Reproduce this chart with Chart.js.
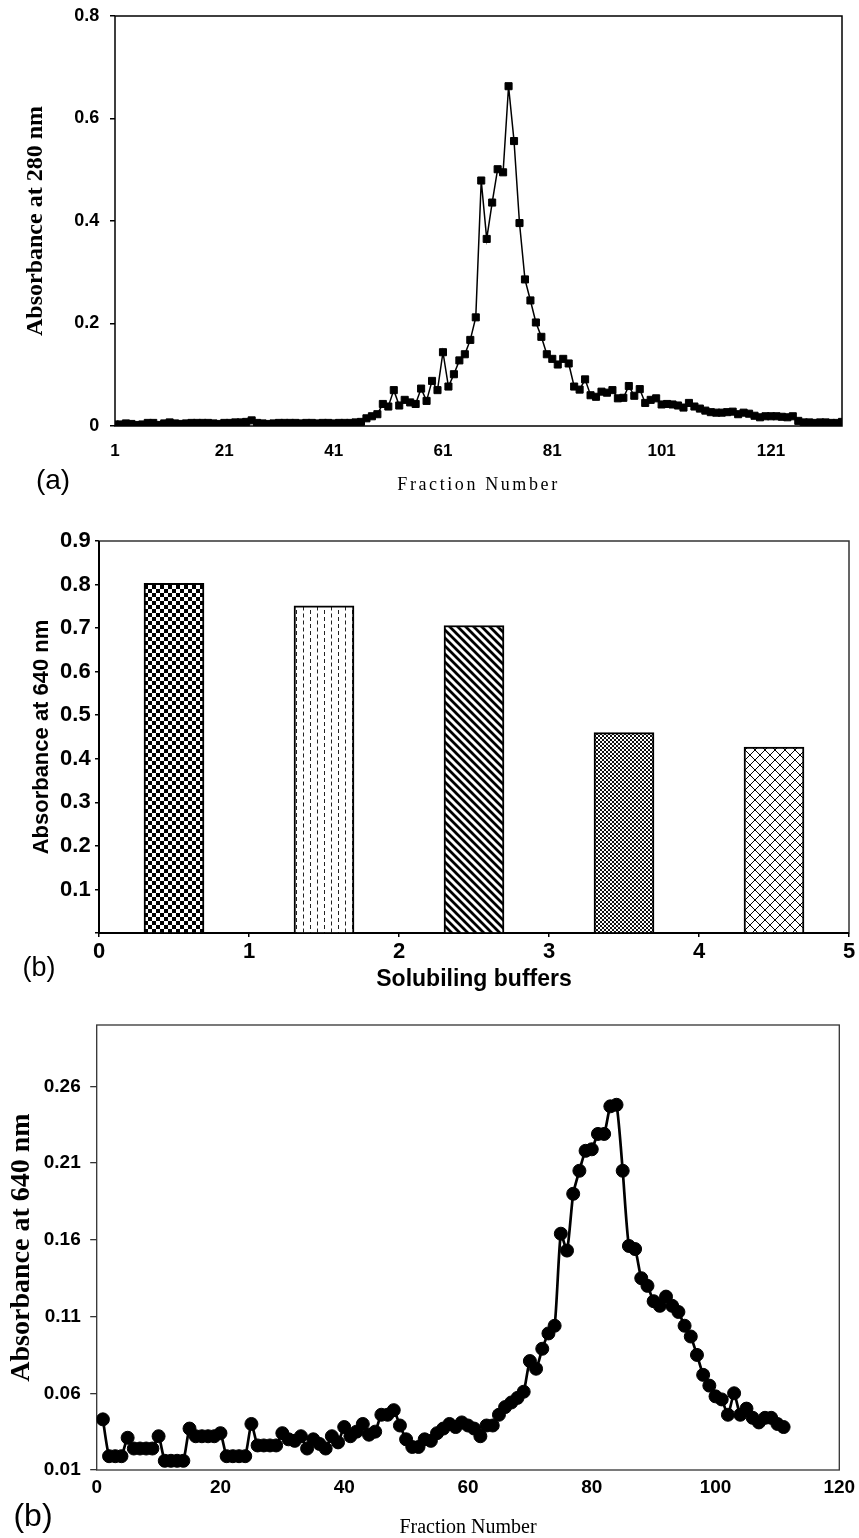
<!DOCTYPE html>
<html><head><meta charset="utf-8">
<script src="https://cdn.jsdelivr.net/npm/chart.js@4/dist/chart.umd.min.js"></script>
<style>
html,body{margin:0;padding:0;background:#fff;}
body{width:859px;height:1538px;position:relative;overflow:hidden;}
canvas{position:absolute;left:0;}
.lbl{position:absolute;font-family:"Liberation Sans",Arial,sans-serif;line-height:1;transform:translate(-50%,-50%);color:#000;white-space:nowrap;}
</style></head><body>
<canvas id="cA" width="859" height="505" style="top:0"></canvas>
<canvas id="cB" width="859" height="495" style="top:505px"></canvas>
<canvas id="cC" width="859" height="538" style="top:1000px"></canvas>
<div class="lbl" style="left:53px;top:480px;font-size:28px">(a)</div>
<div class="lbl" style="left:39px;top:967px;font-size:27px">(b)</div>
<div class="lbl" style="left:33px;top:1515px;font-size:32px">(b)</div>
<script>
// ---------- DATA ----------
// Panel (a): absorbance at 280 nm per fraction (fractions 1..134)
const fractionsA = Array.from({length: 134}, (_, i) => i + 1);
const absorbanceA = [
  0.003,0.003,0.005,0.004,0.002,0.003,0.006,0.006,0.002,0.005,
  0.007,0.005,0.004,0.005,0.006,0.006,0.006,0.006,0.005,0.004,
  0.006,0.006,0.007,0.007,0.008,0.011,0.006,0.005,0.004,0.005,
  0.006,0.006,0.006,0.006,0.005,0.006,0.006,0.005,0.006,0.006,
  0.005,0.006,0.006,0.006,0.007,
  0.008,0.015,0.019,0.023,0.043,0.038,0.070,0.040,0.051,0.046,
  0.043,0.073,0.049,0.088,0.070,0.144,0.077,0.101,0.128,0.140,
  0.168,0.212,
  0.479,0.365,0.436,0.501,0.495,0.663,0.556,0.396,0.286,0.245,
  0.202,0.174,0.140,0.131,0.120,0.131,0.122,0.077,0.071,0.091,
  0.060,
  0.057,0.067,0.065,0.070,0.054,0.055,0.078,0.059,0.072,0.045,
  0.051,0.054,0.042,0.043,0.042,0.040,0.036,0.045,0.038,0.034,
  0.030,0.027,0.026,0.026,0.027,0.028,0.023,0.026,0.024,0.020,
  0.017,0.019,0.019,0.019,0.018,0.017,0.019,0.010,0.007,0.007,
  0.006,0.007,0.007,0.006,0.006,0.008
];
const xTicksA = [1, 21, 41, 61, 81, 101, 121];

// Panel (b) bars: solubilising buffers
const bufferPositions = [0.5, 1.5, 2.5, 3.5, 4.5];
const absorbanceB = [0.803, 0.751, 0.706, 0.460, 0.427];

// Panel (b, lower): absorbance at 640 nm per fraction (1..111)
const fractionsC = Array.from({length: 111}, (_, i) => i + 1);
const absorbanceC = [
  0.043,0.019,0.019,0.019,0.031,0.024,0.024,0.024,0.024,0.032,
  0.016,0.016,0.016,0.016,0.037,0.032,0.032,0.032,0.032,0.034,
  0.019,0.019,0.019,0.019,0.040,0.026,0.026,0.026,0.026,0.034,
  0.030,0.029,0.032,0.024,0.030,0.027,0.024,0.032,0.028,0.038,
  0.032,0.035,0.040,0.033,0.035,0.046,0.046,0.049,0.039,0.030,
  0.025,0.025,0.030,0.029,0.034,0.037,0.040,0.038,0.041,0.039,
  0.037,0.032,0.039,0.039,0.046,0.051,0.054,0.057,0.061,0.081,
  0.076,0.089,0.099,0.104,0.164,0.153,0.190,0.205,0.218,0.219,
  0.229,0.229,0.247,0.248,0.205,0.156,0.154,0.135,0.130,0.120,
  0.117,0.123,0.117,0.113,0.104,0.097,0.085,0.072,0.065,0.058,
  0.056,0.046,0.060,0.046,0.050,0.044,0.041,0.044,0.044,0.040,0.038
];
const yTicksC = [0.01, 0.06, 0.11, 0.16, 0.21, 0.26];

// ---------- HELPERS ----------
const SANS = '"Liberation Sans", Arial, sans-serif';
const SERIF = '"Liberation Serif", "Times New Roman", serif';
Chart.defaults.color = '#000';
Chart.defaults.font.family = SANS;

function fixW(w) { return s => { s.width = w; s.paddingTop = 0; s.paddingBottom = 0; s.paddingLeft = 0; s.paddingRight = 0; }; }
function fixH(h) { return s => { s.height = h; s.paddingTop = 0; s.paddingBottom = 0; s.paddingLeft = 0; s.paddingRight = 0; }; }

const framePlugin = {
  id: 'frame',
  defaults: { color: '#000', width: 1.5, axisColor: null, axisWidth: 0 },
  beforeDatasetsDraw(chart, args, o) {
    const {ctx, chartArea: {left, top, right, bottom}} = chart;
    ctx.save();
    ctx.strokeStyle = o.color; ctx.lineWidth = o.width;
    ctx.strokeRect(left, top, right - left, bottom - top);
    if (o.axisWidth) {
      ctx.strokeStyle = o.axisColor || '#000'; ctx.lineWidth = o.axisWidth;
      ctx.beginPath(); ctx.moveTo(left, top); ctx.lineTo(left, bottom); ctx.lineTo(right, bottom); ctx.stroke();
    }
    ctx.restore();
  }
};
const spacedTitlePlugin = {
  id: 'spacedTitle',
  defaults: { spacing: null },
  beforeDraw(chart, args, o) {
    if (!o.spacing) return;
    const s = chart.scales.x;
    if (s && !s.__spaced) {
      const orig = s.drawTitle;
      s.drawTitle = function () { const c = this.ctx; c.save(); c.letterSpacing = o.spacing; orig.call(this); c.restore(); };
      s.__spaced = true;
    }
  }
};
Chart.register(framePlugin, spacedTitlePlugin);

const common = {
  responsive: false, animation: false, devicePixelRatio: 1,
  events: [],
};

// ---------- PANEL A ----------
new Chart(document.getElementById('cA'), {
  type: 'line',
  data: { datasets: [{
    data: fractionsA.map((f, i) => ({x: f, y: absorbanceA[i]})),
    borderColor: '#000', borderWidth: 1.5, backgroundColor: '#000',
    pointStyle: 'rect', pointRadius: 5, pointBorderWidth: 1, pointBackgroundColor: '#000', pointBorderColor: '#000',
    tension: 0
  }]},
  options: Object.assign({}, common, {
    layout: { padding: { top: 16, right: 17, left: 0, bottom: 0 } },
    plugins: { legend: {display: false}, tooltip: {enabled: false}, frame: { color: '#000', width: 1.5 }, spacedTitle: { spacing: '2.6px' } },
    scales: {
      x: {
        type: 'linear', min: 1, max: 134,
        afterBuildTicks: s => { s.ticks = xTicksA.map(v => ({value: v})); },
        afterFit: fixH(79),
        grid: { display: true, drawOnChartArea: false, drawTicks: false },
        border: { display: false },
        ticks: { font: {family: SANS, size: 17, weight: 'bold'}, color: '#000', padding: 15.5, maxRotation: 0, autoSkip: false, callback: v => String(v) },
        title: { display: true, text: 'Fraction Number', color: '#000', font: {family: SERIF, size: 18}, padding: {top: 0, bottom: 9.2} }
      },
      y: {
        min: 0, max: 0.8,
        afterFit: fixW(115),
        grid: { display: true, drawOnChartArea: false, drawTicks: true, tickLength: 5, color: '#000', lineWidth: 1.5 },
        border: { display: false },
        ticks: { stepSize: 0.2, font: {family: SANS, size: 18, weight: 'bold'}, color: '#000', padding: 10.7, callback: v => v === 0 ? '0' : v.toFixed(1) },
        title: { display: true, text: 'Absorbance at 280 nm', color: '#000', font: {family: SERIF, size: 24, weight: 'bold'}, padding: {top: 21.6, bottom: 0} }
      }
    }
  })
});

// ---------- PANEL B (bars) ----------
const ctxB = document.getElementById('cB').getContext('2d');
function makePattern(w, h, draw) {
  const c = document.createElement('canvas'); c.width = w; c.height = h;
  const g = c.getContext('2d');
  g.fillStyle = '#fff'; g.fillRect(0, 0, w, h);
  g.fillStyle = '#000'; g.strokeStyle = '#000';
  draw(g, w, h);
  return ctxB.createPattern(c, 'repeat');
}
const barPatterns = [
  makePattern(8, 8, g => { g.fillRect(0, 0, 4, 4); g.fillRect(4, 4, 4, 4); }),
  makePattern(14, 7, g => { g.fillStyle = '#222'; g.fillRect(2, 0, 1, 4); g.fillRect(9, 3.5, 1, 3.5); g.fillRect(9, 0, 1, 0.5); }),
  makePattern(8, 8, g => { g.lineWidth = 2.8; g.beginPath();
    g.moveTo(-4, -4); g.lineTo(12, 12); g.moveTo(-4, 4); g.lineTo(4, 12); g.moveTo(4, -4); g.lineTo(12, 4); g.stroke(); }),
  makePattern(4, 4, g => { g.fillStyle = '#111'; g.fillRect(0, 0, 2, 2); g.fillRect(2, 2, 2, 2); }),
  makePattern(10, 10, g => { g.lineWidth = 1; g.beginPath();
    g.moveTo(-5, -5); g.lineTo(15, 15); g.moveTo(-5, 5); g.lineTo(5, 15); g.moveTo(5, -5); g.lineTo(15, 5);
    g.moveTo(-5, 15); g.lineTo(15, -5); g.moveTo(-5, 5); g.lineTo(5, -5); g.moveTo(5, 15); g.lineTo(15, 5); g.stroke(); })
];

new Chart(ctxB, {
  type: 'bar',
  data: { datasets: [{
    data: bufferPositions.map((x, i) => ({x: x, y: absorbanceB[i]})),
    backgroundColor: barPatterns, borderColor: '#000', borderWidth: 2, barThickness: 60
  }]},
  options: Object.assign({}, common, {
    layout: { padding: { top: 36, right: 10, left: 0, bottom: 0 } },
    plugins: { legend: {display: false}, tooltip: {enabled: false}, frame: { color: '#333', width: 1.5, axisColor: '#000', axisWidth: 2 } },
    scales: {
      x: {
        type: 'linear', min: 0, max: 5, offset: false,
        afterFit: fixH(67),
        grid: { display: true, offset: false, drawOnChartArea: false, drawTicks: true, tickLength: 4, color: '#000', lineWidth: 1.5 },
        border: { display: false },
        ticks: { stepSize: 1, font: {family: SANS, size: 22, weight: 'bold'}, color: '#000', padding: 1.5, maxRotation: 0, callback: v => String(v) },
        title: { display: true, text: 'Solubiling buffers', color: '#000', font: {family: SANS, size: 23, weight: 'bold'}, padding: {top: 0, bottom: 6.2} }
      },
      y: {
        min: 0, max: 0.9,
        afterFit: fixW(99),
        grid: { display: true, drawOnChartArea: false, drawTicks: true, tickLength: 4, color: '#000', lineWidth: 1.5 },
        border: { display: false },
        ticks: { stepSize: 0.1, font: {family: SANS, size: 22, weight: 'bold'}, color: '#000', padding: 4.3, callback: v => v < 0.05 ? '' : v.toFixed(1) },
        title: { display: true, text: 'Absorbance at 640 nm', color: '#000', font: {family: SANS, size: 22, weight: 'bold'}, padding: {top: 28.5, bottom: 0} }
      }
    }
  })
});

// ---------- PANEL C ----------
new Chart(document.getElementById('cC'), {
  type: 'line',
  data: { datasets: [{
    data: fractionsC.map((f, i) => ({x: f, y: absorbanceC[i]})),
    borderColor: '#000', borderWidth: 2.7, backgroundColor: '#000',
    pointStyle: 'circle', pointRadius: 6.5, pointBorderWidth: 1, pointBackgroundColor: '#000', pointBorderColor: '#000',
    tension: 0.2
  }]},
  options: Object.assign({}, common, {
    layout: { padding: { top: 25, right: 19.7, left: 0, bottom: 0 } },
    plugins: { legend: {display: false}, tooltip: {enabled: false}, frame: { color: '#333', width: 1.3 } },
    scales: {
      x: {
        type: 'linear', min: 0, max: 120,
        afterFit: fixH(68),
        grid: { display: true, drawOnChartArea: false, drawTicks: false },
        border: { display: false },
        ticks: { stepSize: 20, font: {family: SANS, size: 19, weight: 'bold'}, color: '#000', padding: 6.6, maxRotation: 0, callback: v => String(v) },
        title: { display: true, text: 'Fraction Number', color: '#000', font: {family: SERIF, size: 20, lineHeight: 1}, padding: {top: 0, bottom: 0} }
      },
      y: {
        min: 0.01, max: 0.30,
        afterBuildTicks: s => { s.ticks = yTicksC.map(v => ({value: v})); },
        afterFit: fixW(96.7),
        grid: { display: true, drawOnChartArea: false, drawTicks: true, tickLength: 6.5, color: '#333', lineWidth: 1.3 },
        border: { display: false },
        ticks: { font: {family: SANS, size: 19, weight: 'bold'}, color: '#000', padding: 9.5, callback: v => v.toFixed(2) },
        title: { display: true, text: 'Absorbance at 640 nm', color: '#000', font: {family: SERIF, size: 28, weight: 'bold'}, padding: {top: 4.9, bottom: 0} }
      }
    }
  })
});
</script>
</body></html>
